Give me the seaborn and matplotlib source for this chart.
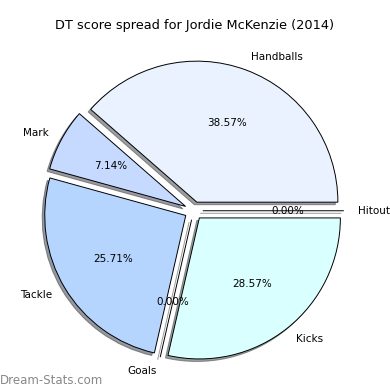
import matplotlib
matplotlib.use("Agg")
import matplotlib.pyplot as plt
import seaborn as sns

sns.set_style("white")
plt.rcParams["text.color"] = "black"

# DT score spread (share of points per stat)
labels = ["Handballs", "Mark", "Tackle", "Goals", "Kicks", "Hitout"]
points = [27, 5, 18, 0, 20, 0]
colors = ["#eaf1ff", "#c6d9ff", "#b5d5ff", "#c9e4ff", "#d9ffff", "#e0e8ff"]
explode = [0.065] * len(labels)

fig = plt.figure(figsize=(3.9, 3.9), dpi=100)
ax = fig.add_axes([0.0445, 0.0076, 0.904, 0.904])

wedges, texts, autotexts = ax.pie(points, labels=labels, colors=colors, explode=explode,
                                  autopct="%1.2f%%", startangle=0,
                                  shadow={"ox": -0.013, "oy": -0.013, "shade": 0.75},
                                  wedgeprops={"edgecolor": "black", "linewidth": 0.7},
                                  textprops={"fontsize": 7.5, "color": "black"})
ax.set_xlim(-1.25, 1.25)
ax.set_ylim(-1.25, 1.25)
ax.set_aspect("equal")

fig.text(0.5, 0.935, "DT score spread for Jordie McKenzie (2014)", ha="center", va="center",
         fontsize=9.3, color="black")
fig.text(0.0, 0.025, "Dream-Stats.com", ha="left", va="center", fontsize=8.5, color="#888888")

fig.savefig("out.png", dpi=100)
